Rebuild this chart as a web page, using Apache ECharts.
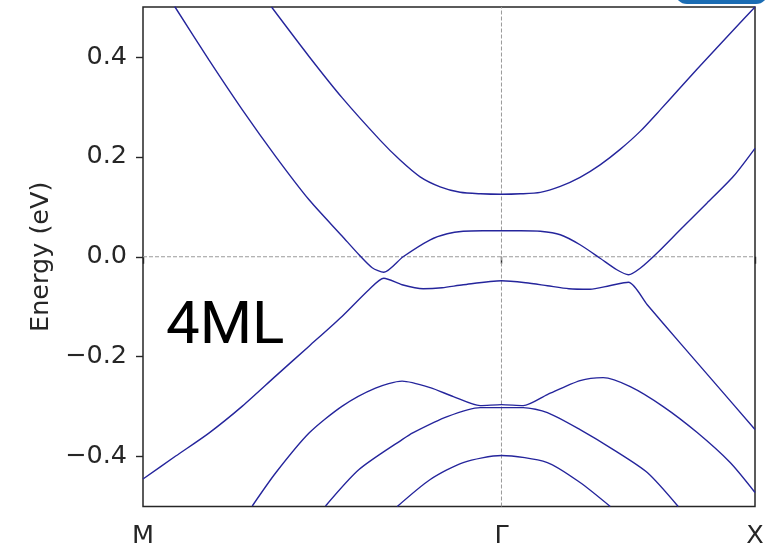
<!DOCTYPE html>
<html>
<head>
<meta charset="utf-8">
<script src="https://cdn.jsdelivr.net/npm/echarts@6/dist/echarts.min.js"></script>
<style>
  html, body { margin: 0; padding: 0; background: #ffffff; }
  #chart { width: 779px; height: 546px; }
</style>
</head>
<body>
<div id="chart"></div>
<script>
// High-symmetry path M – Γ – X (path length in units of Γ–X)
const kPoints = [0, 1.414, 2.414];
const kLabels = ['M', 'Γ', 'X'];
const energyTicks = [-0.4, -0.2, 0.0, 0.2, 0.4];
const energyRange = [-0.5, 0.5];
const fermiLevel = 0.0;
const panelLabel = '4ML';

// Bands as [k, E (eV)] pairs
const band1 = [ // top conduction band
  [0.507, 0.500], [0.655, 0.401], [0.786, 0.318], [0.936, 0.233], [1.015, 0.193],
  [1.093, 0.160], [1.172, 0.140], [1.251, 0.129], [1.330, 0.126], [1.414, 0.125],
  [1.490, 0.126], [1.567, 0.129], [1.646, 0.141], [1.724, 0.159], [1.803, 0.184],
  [1.882, 0.215], [1.961, 0.251], [2.040, 0.294], [2.111, 0.334], [2.186, 0.376],
  [2.316, 0.447], [2.414, 0.500]
];
const band2 = [ // lower conduction band
  [0.125, 0.501], [0.260, 0.394], [0.392, 0.294], [0.523, 0.201], [0.655, 0.114],
  [0.786, 0.041], [0.852, 0.004], [0.904, -0.022], [0.950, -0.031], [1.026, 0.000],
  [1.133, 0.034], [1.200, 0.046], [1.263, 0.051], [1.340, 0.052], [1.414, 0.052],
  [1.490, 0.052], [1.567, 0.051], [1.646, 0.044], [1.724, 0.024], [1.803, -0.003],
  [1.869, -0.026], [1.915, -0.036], [1.961, -0.023], [2.027, 0.007], [2.119, 0.054],
  [2.224, 0.107], [2.329, 0.161], [2.414, 0.217]
];
const band3 = [ // top valence band
  [0.000, -0.445], [0.129, -0.399], [0.260, -0.353], [0.392, -0.299], [0.523, -0.239],
  [0.655, -0.179], [0.786, -0.119], [0.891, -0.066], [0.950, -0.043], [1.022, -0.056],
  [1.105, -0.064], [1.180, -0.062], [1.263, -0.056], [1.414, -0.048], [1.510, -0.052],
  [1.595, -0.058], [1.680, -0.064], [1.763, -0.065], [1.840, -0.058], [1.915, -0.051],
  [1.989, -0.096], [2.119, -0.173], [2.249, -0.249], [2.414, -0.346]
];
const band4 = [
  [0.431, -0.499], [0.523, -0.433], [0.655, -0.353], [0.786, -0.299], [0.917, -0.263],
  [1.022, -0.249], [1.133, -0.262], [1.224, -0.280], [1.330, -0.298], [1.414, -0.296],
  [1.500, -0.298], [1.595, -0.276], [1.724, -0.248], [1.815, -0.242], [1.922, -0.260],
  [2.052, -0.300], [2.186, -0.352], [2.316, -0.412], [2.414, -0.472]
];
const band5 = [
  [0.720, -0.499], [0.852, -0.426], [1.022, -0.366], [1.066, -0.352], [1.200, -0.320],
  [1.330, -0.302], [1.414, -0.302], [1.500, -0.302], [1.595, -0.312], [1.724, -0.346],
  [1.855, -0.386], [1.989, -0.432], [2.111, -0.500]
];
const band6 = [
  [1.003, -0.500], [1.133, -0.446], [1.263, -0.412], [1.414, -0.398], [1.595, -0.412],
  [1.724, -0.452], [1.843, -0.500]
];
const bands = [band1, band2, band3, band4, band5, band6];

const lineColor = '#25259c';
const guideColor = '#9a9a9a';
const ink = '#262626';
const fmt = v => {
  const s = Math.abs(v).toFixed(1);
  return v < -1e-9 ? '\u2212' + s : s;
};

const chart = echarts.init(document.getElementById('chart'), null, { renderer: 'canvas' });

// Dashed guides: Fermi level and the Γ point
const guides = [
  [[kPoints[0], fermiLevel], [kPoints[2], fermiLevel]],
  [[kPoints[1], energyRange[0]], [kPoints[1], energyRange[1]]]
].map(d => ({
  type: 'line',
  data: d,
  showSymbol: false,
  silent: true,
  lineStyle: { color: guideColor, width: 1, type: [4, 2] },
  z: 2
}));

const bandSeries = bands.map(b => ({
  type: 'line',
  data: b,
  showSymbol: false,
  smooth: 0.25,
  clip: true,
  silent: true,
  lineStyle: { color: lineColor, width: 1.4 },
  z: 3
}));

chart.setOption({
  animation: false,
  backgroundColor: '#ffffff',
  grid: {
    left: 143, top: 7, width: 612, height: 499.5,
    outerBoundsMode: 'none',
    containLabel: false,
    show: true, borderColor: ink, borderWidth: 1.5, backgroundColor: 'transparent'
  },
  xAxis: {
    type: 'value',
    min: kPoints[0], max: kPoints[2],
    axisLine: { show: false },
    splitLine: { show: false },
    axisTick: { show: true, length: 7, lineStyle: { color: ink, width: 1.4 }, customValues: kPoints },
    axisLabel: {
      customValues: kPoints,
      margin: 17,
      color: ink,
      fontFamily: 'DejaVu Sans',
      fontSize: 25.5,
      showMinLabel: true, showMaxLabel: true,
      formatter: v => {
        const i = kPoints.findIndex(p => Math.abs(p - v) < 1e-6);
        return i >= 0 ? kLabels[i] : '';
      }
    }
  },
  yAxis: {
    type: 'value',
    min: energyRange[0], max: energyRange[1],
    name: 'Energy (eV)',
    nameLocation: 'middle',
    nameGap: 89,
    nameTextStyle: { color: ink, fontFamily: 'DejaVu Sans', fontSize: 25.5 },
    axisLine: { show: false },
    splitLine: { show: false },
    axisTick: { show: true, length: 7, lineStyle: { color: ink, width: 1.4 }, customValues: energyTicks },
    axisLabel: {
      customValues: energyTicks,
      margin: 16,
      color: ink,
      fontFamily: 'DejaVu Sans',
      fontSize: 25.5,
      formatter: fmt
    }
  },
  graphic: [
    {
      type: 'text',
      left: 166, top: 298,
      style: { text: panelLabel, fill: '#000000', fontFamily: 'Roboto', fontSize: 60, fontWeight: 400 },
      z: 10
    },
    {
      type: 'rect',
      shape: { x: 675, y: -30, width: 93, height: 34, r: 12 },
      style: { fill: '#1b6db4' },
      z: 10
    }
  ],
  series: guides.concat(bandSeries)
});
</script>
</body>
</html>
